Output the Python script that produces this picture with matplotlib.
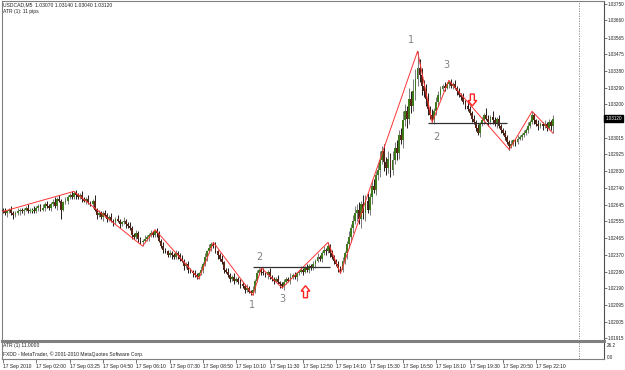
import matplotlib
matplotlib.use("Agg")
import matplotlib.pyplot as plt
from matplotlib.patches import Polygon
from matplotlib.transforms import blended_transform_factory
import numpy as np

# ---------------- data ----------------
symbol_text = "USDCAD,M5  1.03070 1.03140 1.03040 1.03120"
atr_header = "ATR (1): 11 pips"
atr_panel_text = "ATR (1) 11.0000"
copyright_text = "FXDD - MetaTrader, \u00a9 2001-2010 MetaQuotes Software Corp."
BASE = 1.01900      # price reference
PIP = 0.0001

first_open = 72
close_pips = [
    71, 70, 71, 72, 70, 69, 70, 71, 72, 71,
    72, 73, 71, 72, 72, 71, 73, 74, 72, 73,
    75, 74, 73, 75, 76, 74, 78, 77, 72, 76,
    77, 79, 80, 79, 81, 80, 79, 80, 78, 77,
    78, 76, 75, 77, 72, 69, 70, 68, 70, 69,
    67, 68, 66, 65, 67, 66, 64, 65, 66, 64,
    63, 62, 58, 57, 59, 56, 54, 55, 56, 57,
    58, 59, 58, 60, 59, 55, 52, 50, 49, 47,
    48, 47, 46, 48, 47, 45, 44, 41, 42, 39,
    38, 37, 36, 35, 37, 39, 42, 46, 49, 51,
    53, 52, 49, 47, 45, 43, 39, 38, 36, 34,
    35, 33, 34, 32, 31, 30, 28, 29, 27, 26,
    28, 33, 37, 39, 38, 37, 36, 38, 35, 34,
    33, 34, 32, 31, 30, 32, 34, 33, 35, 36,
    35, 37, 38, 39, 38, 40, 39, 41, 40, 42,
    44, 46, 45, 48, 50, 49, 52, 48, 46, 44,
    42, 40, 39, 44, 48, 53, 57, 62, 66, 70,
    72, 67, 75, 70, 77, 72, 79, 85, 83, 91,
    94, 99, 104, 98, 95, 100, 94, 99, 106, 103,
    113, 110, 121, 126, 122, 133, 129, 137, 144, 150,
    146, 140, 137, 133, 127, 124, 122, 126, 131, 135,
    138, 140, 139, 141, 142, 140, 141, 139, 137, 135,
    134, 131, 129, 127, 125, 122, 120, 117, 114, 119,
    121, 124, 122, 120, 123, 121, 119, 122, 118, 116,
    114, 112, 109, 107, 108, 110, 109, 111, 112, 113,
    114, 116, 118, 120, 124, 121, 119, 118, 119, 118,
    119, 117, 120, 118, 122,
]
upper_wick = [
    1, 2, 1, 1, 2, 1, 1, 2, 1, 1,
    1, 1, 2, 1, 1, 2, 1, 1, 1, 2,
    1, 2, 1, 1, 2, 3, 1, 2, 1, 1,
    2, 1, 1, 2, 1, 2, 1, 1, 2, 1,
    1, 2, 1, 1, 3, 1, 2, 1, 1, 2,
    1, 1, 2, 1, 1, 2, 1, 1, 2, 1,
    1, 2, 1, 1, 2, 1, 1, 1, 2, 1,
    1, 2, 1, 1, 2, 1, 1, 2, 1, 1,
    2, 1, 1, 2, 1, 1, 2, 1, 1, 2,
    1, 1, 2, 1, 1, 2, 1, 2, 1, 2,
    1, 1, 2, 1, 1, 2, 1, 1, 2, 1,
    1, 2, 1, 1, 2, 1, 1, 2, 1, 1,
    2, 1, 2, 1, 1, 2, 1, 1, 2, 1,
    1, 1, 2, 1, 1, 2, 1, 1, 2, 1,
    2, 1, 1, 2, 1, 1, 2, 1, 1, 2,
    1, 2, 1, 1, 2, 1, 2, 1, 2, 1,
    1, 2, 1, 2, 1, 2, 3, 2, 3, 4,
    3, 4, 2, 5, 3, 4, 2, 3, 4, 2,
    3, 5, 3, 4, 3, 4, 3, 5, 3, 4,
    3, 4, 5, 4, 3, 6, 4, 7, 5, 9,
    5, 4, 3, 4, 3, 2, 3, 2, 3, 2,
    2, 1, 2, 1, 1, 2, 1, 2, 1, 2,
    1, 2, 1, 2, 2, 1, 2, 1, 2, 1,
    2, 1, 4, 2, 1, 3, 2, 1, 2, 1,
    1, 2, 1, 1, 2, 1, 1, 2, 1, 1,
    2, 1, 2, 1, 2, 1, 1, 2, 1, 1,
    2, 1, 2, 1, 2,
]
lower_wick = [
    1, 1, 2, 1, 1, 2, 1, 1, 2, 1,
    2, 1, 1, 1, 2, 1, 1, 2, 1, 1,
    2, 1, 1, 2, 1, 1, 2, 1, 5, 1,
    1, 2, 1, 1, 1, 2, 1, 1, 2, 1,
    2, 1, 1, 2, 1, 2, 1, 1, 2, 1,
    2, 1, 1, 2, 1, 1, 2, 1, 1, 2,
    1, 1, 2, 1, 1, 2, 1, 2, 1, 1,
    2, 1, 1, 1, 2, 1, 1, 2, 1, 1,
    1, 2, 1, 1, 2, 1, 1, 2, 1, 2,
    1, 2, 1, 1, 1, 1, 2, 1, 2, 1,
    2, 1, 1, 2, 1, 1, 2, 1, 1, 2,
    1, 2, 1, 1, 2, 1, 2, 1, 1, 1,
    1, 2, 1, 1, 2, 1, 1, 2, 1, 1,
    2, 1, 1, 2, 1, 2, 1, 1, 2, 1,
    1, 2, 1, 1, 2, 1, 1, 2, 1, 1,
    2, 1, 1, 2, 1, 2, 1, 2, 1, 2,
    1, 2, 2, 1, 2, 3, 2, 3, 3, 2,
    4, 3, 5, 3, 4, 2, 3, 4, 2, 3,
    3, 4, 2, 5, 4, 3, 4, 3, 2, 4,
    3, 2, 4, 3, 5, 3, 4, 3, 5, 4,
    4, 5, 3, 4, 3, 2, 2, 3, 2, 2,
    2, 1, 2, 1, 2, 1, 2, 1, 2, 1,
    2, 1, 2, 1, 1, 2, 1, 2, 1, 2,
    1, 2, 1, 2, 1, 2, 1, 2, 1, 2,
    1, 2, 1, 2, 1, 1, 2, 1, 1, 2,
    1, 1, 2, 1, 1, 2, 1, 2, 1, 2,
    1, 2, 1, 2, 4,
]

# zigzag pivots (bar index, pips above BASE)
zz_bar = [0, 34, 67, 73, 94, 101, 120, 124, 134, 156, 162, 199, 206, 214, 243, 254, 264]
zz_pips = [71, 82, 52, 61, 34, 54, 25, 40, 29, 54, 37, 159, 120, 143, 105, 126, 114]

# horizontal neckline levels: (start bar, end bar, pips)
level_start = [120, 204]
level_end = [157, 242]
level_pips = [40.4, 119.7]

# wave labels
wave_text = ["1", "2", "3", "1", "2", "3"]
wave_bar = [196, 208, 213, 119.5, 123, 134]
wave_pips = [165, 112, 151.5, 19.5, 46, 23]

# signal arrows: (centre bar, top pips, bottom pips, direction)
arrow_bar = [225.3, 145.2]
arrow_top = [135.5, 30.2]
arrow_bot = [129.0, 23.6]
arrow_dir = ["down", "up"]

price_ticks = [1.03750, 1.03660, 1.03565, 1.03475, 1.03380, 1.03290, 1.03200,
               1.03015, 1.02925, 1.02830, 1.02740, 1.02645, 1.02555, 1.02465,
               1.02370, 1.02280, 1.02190, 1.02095, 1.02005, 1.01915]
time_tick_bar = [0, 16, 32, 48, 64, 80, 96, 112, 128, 144, 160, 176, 192, 208, 224, 240, 256]
time_tick_label = ["17 Sep 2010", "17 Sep 02:00", "17 Sep 03:25", "17 Sep 04:50",
                   "17 Sep 06:10", "17 Sep 07:30", "17 Sep 08:50", "17 Sep 10:10",
                   "17 Sep 11:30", "17 Sep 12:50", "17 Sep 14:10", "17 Sep 15:30",
                   "17 Sep 16:50", "17 Sep 18:10", "17 Sep 19:30", "17 Sep 20:50",
                   "17 Sep 22:10"]
atr_scale_labels = ["26.2", "0.0"]
shift_bar = 276.5

# ---------------- figure ----------------
W, H = 625, 370
plt.rcParams['font.family'] = ['Liberation Sans', 'DejaVu Sans']
fig = plt.figure(figsize=(W / 100, H / 100), dpi=100)
fig.patch.set_facecolor('white')

def fx(x):
    return x / W

def fy(y):
    return 1 - y / H

ax = fig.add_axes([fx(2), fy(339), (604 - 2) / W, (339 - 1) / H])
ax.set_facecolor('white')
ax.set_xlim(-0.48, 288.5)
ax.set_ylim(BASE + 0.93 * PIP, BASE + 186.6 * PIP)

close = np.array(close_pips, float)
opn = np.array([first_open] + close_pips[:-1], float)
hi = np.maximum(opn, close) + np.array(upper_wick, float)
lo = np.minimum(opn, close) - np.array(lower_wick, float)
n = len(close)

for i in range(n):
    o, c = opn[i], close[i]
    bull = c > o
    wick_col = '#7a7a7a' if bull else '#221a18'
    ax.vlines(i, BASE + lo[i] * PIP, BASE + hi[i] * PIP, color=wick_col, lw=0.7, zorder=2)
    if c == o:
        ax.hlines(BASE + c * PIP, i - 0.5, i + 0.5, color='#33ee22', lw=1.0, zorder=3)
    else:
        col = '#3d7a1c' if bull else '#5a2416'
        ax.bar(i, abs(c - o) * PIP, bottom=BASE + min(o, c) * PIP, width=0.9,
               color=col, edgecolor='none', zorder=3)

# zigzag
ax.plot(zz_bar, BASE + np.array(zz_pips) * PIP, color='#ff3333', lw=0.7, zorder=4)

# levels
for s, e, p in zip(level_start, level_end, level_pips):
    ax.hlines(BASE + p * PIP, s, e, color='#303030', lw=0.9, zorder=5)

# wave labels
for t, b, p in zip(wave_text, wave_bar, wave_pips):
    ax.text(b, BASE + p * PIP, t, ha='center', va='center', fontsize=7,
            color='#808080', family='DejaVu Sans', zorder=6)

# arrows
for b, top, bot, d in zip(arrow_bar, arrow_top, arrow_bot, arrow_dir):
    t = BASE + top * PIP
    bt = BASE + bot * PIP
    hw, sw = 2.1, 0.95
    if d == 'down':
        m = t - 0.55 * (t - bt)
        pts = [(b - sw, t), (b + sw, t), (b + sw, m), (b + hw, m), (b, bt), (b - hw, m), (b - sw, m)]
    else:
        m = bt + 0.55 * (t - bt)
        pts = [(b - sw, bt), (b + sw, bt), (b + sw, m), (b + hw, m), (b, t), (b - hw, m), (b - sw, m)]
    ax.add_patch(Polygon(pts, closed=True, facecolor='white', edgecolor='#ff2020', lw=1.0, zorder=7))

ax.axvline(shift_bar, color='#808080', lw=0.6, ls=(0, (1.5, 1.5)), zorder=1)

ax.set_xticks([])
ax.yaxis.tick_right()
ax.set_yticks(price_ticks)
ax.set_yticklabels(["%.5f" % v for v in price_ticks])
ax.tick_params(axis='y', length=2, width=0.5, color='#404040', labelsize=3.3, pad=1.0,
               labelcolor='#202020')
for side, sp in ax.spines.items():
    sp.set_color('#808080')
    sp.set_linewidth(0.8)
ax.spines['right'].set_color('#505050')
ax.spines['bottom'].set_visible(False)

# current price label
tr = blended_transform_factory(ax.transAxes, ax.transData)
ax.text(1.002, BASE + close[-1] * PIP, "%.5f" % (BASE + close[-1] * PIP), transform=tr,
        ha='left', va='center', fontsize=3.3, color='white', zorder=10,
        bbox=dict(boxstyle='square,pad=0.3', fc='black', ec='black'), clip_on=False)

# top-left info
fig.text(fx(3), fy(5), symbol_text, fontsize=3.6, color='#202020', va='center', ha='left')
fig.text(fx(3), fy(11.5), atr_header, fontsize=3.6, color='#202020', va='center', ha='left')

# ATR sub-window
ax2 = fig.add_axes([fx(2), fy(359), (604 - 2) / W, (359 - 341) / H])
ax2.set_xlim(-0.48, 288.5)
ax2.set_ylim(0, 26.2)
ax2.set_yticks([])
ax2.axvline(shift_bar, color='#808080', lw=0.6, ls=(0, (1.5, 1.5)))
for side, sp in ax2.spines.items():
    sp.set_color('#808080')
    sp.set_linewidth(0.8)
ax2.spines['top'].set_linewidth(2.2)
ax2.spines['right'].set_color('#505050')
ax2.set_xticks(time_tick_bar)
ax2.set_xticklabels(time_tick_label, ha='left')
ax2.tick_params(axis='x', length=3, width=0.5, color='#404040', labelsize=3.6, pad=0.8,
                labelcolor='#202020')

fig.text(fx(3), fy(345.5), atr_panel_text, fontsize=3.6, color='#202020', va='center', ha='left')
fig.text(fx(3), fy(354.5), copyright_text, fontsize=3.6, color='#202020', va='center', ha='left')
fig.text(fx(607), fy(345.5), atr_scale_labels[0], fontsize=3.3, color='#202020', va='center', ha='left')
fig.text(fx(607), fy(357.5), atr_scale_labels[1], fontsize=3.3, color='#202020', va='center', ha='left')

fig.savefig("out.png", dpi=100, facecolor='white')
